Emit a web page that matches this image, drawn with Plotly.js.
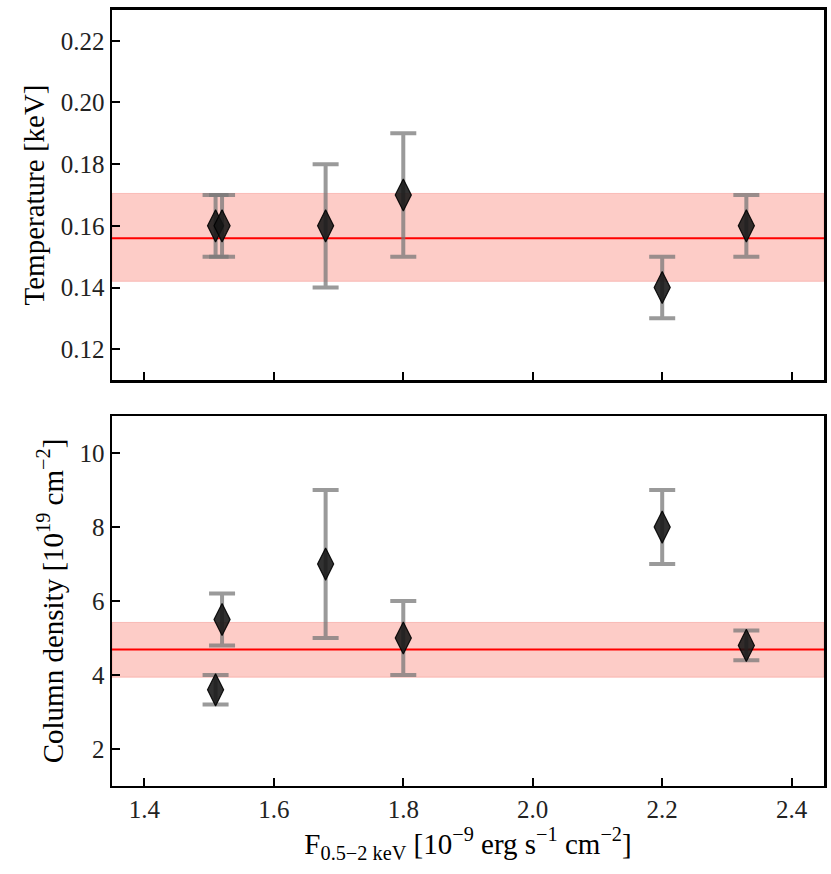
<!DOCTYPE html>
<html>
<head>
<meta charset="utf-8">
<script src="https://cdn.plot.ly/plotly-3.0.1.min.js"></script>
<style>
  html, body { margin: 0; padding: 0; background: #fff; }
  #chart { width: 831px; height: 874px; }
</style>
</head>
<body>
<div id="chart"></div>
<script>
// flux values (shared x)
const flux = [1.51, 1.52, 1.68, 1.80, 2.20, 2.33];

// temperature panel
const temp = [0.16, 0.16, 0.16, 0.17, 0.14, 0.16];
const tempErrHi = [0.01, 0.01, 0.02, 0.02, 0.01, 0.01];
const tempErrLo = [0.01, 0.01, 0.02, 0.02, 0.01, 0.01];
const tempMean = 0.156;
const tempBand = [0.142, 0.1705];

// column density panel
const nh = [3.6, 5.5, 7.0, 5.0, 8.0, 4.8];
const nhErrHi = [0.4, 0.7, 2.0, 1.0, 1.0, 0.4];
const nhErrLo = [0.4, 0.7, 2.0, 1.0, 1.0, 0.4];
const nhMean = 4.69;
const nhBand = [3.94, 5.42];

const xRange = [1.35, 2.45];
const tempRange = [0.11, 0.23];
const nhRange = [1, 11];

const FONT = "Liberation Serif";
const ERR_COLOR = "rgba(120,120,120,0.75)";
const MARKER = {
  symbol: "diamond-tall",
  size: 23,
  color: "rgba(20,20,20,0.88)",
  line: { color: "rgba(0,0,0,0.9)", width: 1.2 },
};

function points(y, hi, lo, axis) {
  return {
    x: flux, y: y, xaxis: "x" + axis, yaxis: "y" + axis,
    type: "scatter", mode: "markers",
    marker: MARKER,
    error_y: { type: "data", array: hi, arrayminus: lo, color: ERR_COLOR, thickness: 4, width: 13 },
    hoverinfo: "x+y", showlegend: false,
  };
}

function meanLine(v, axis) {
  return {
    x: xRange, y: [v, v], xaxis: "x" + axis, yaxis: "y" + axis,
    type: "scatter", mode: "lines",
    line: { color: "#ff0000", width: 2 },
    hoverinfo: "skip", showlegend: false,
  };
}

function band(b, axis) {
  return {
    type: "rect", xref: "x" + axis + " domain", yref: "y" + axis,
    x0: 0, x1: 1, y0: b[0], y1: b[1],
    fillcolor: "rgba(250,128,114,0.4)",
    line: { color: "rgba(240,110,100,0.35)", width: 1 },
    layer: "below",
  };
}

function axisBase(extra) {
  return Object.assign({
    showline: true, mirror: true, linecolor: "#000", linewidth: 2.5,
    ticks: "inside", ticklen: 8, tickwidth: 2, tickcolor: "#000",
    showgrid: false, zeroline: false, automargin: false,
    tickmode: "linear",
    tickfont: { family: FONT, size: 25, color: "#222" },
  }, extra);
}

const titleFont = { family: FONT, size: 29, color: "#000" };

const traces = [
  meanLine(tempMean, ""),
  points(temp, tempErrHi, tempErrLo, ""),
  meanLine(nhMean, "2"),
  points(nh, nhErrHi, nhErrLo, "2"),
];

const layout = {
  width: 831, height: 874,
  margin: { l: 0, r: 0, t: 0, b: 0 },
  paper_bgcolor: "#fff", plot_bgcolor: "rgba(0,0,0,0)",
  font: { family: FONT, size: 25, color: "#222" },
  xaxis: axisBase({
    domain: [0.1348, 0.9916], range: xRange, anchor: "y",
    tick0: 1.4, dtick: 0.2, showticklabels: false,
  }),
  yaxis: axisBase({
    domain: [0.5652, 0.9886], range: tempRange, anchor: "x",
    tick0: 0.12, dtick: 0.02, tickformat: ".2f",
    title: { text: "Temperature [keV]", font: titleFont, standoff: 8 },
  }),
  xaxis2: axisBase({
    domain: [0.1348, 0.9916], range: xRange, anchor: "y2",
    tick0: 1.4, dtick: 0.2, tickformat: ".1f",
    title: { text: "F<sub>0.5−2 keV</sub> [10<sup>−9</sup> erg s<sup>−1</sup> cm<sup>−2</sup>]", font: titleFont, standoff: 6 },
  }),
  yaxis2: axisBase({
    domain: [0.1007, 0.5240], range: nhRange, anchor: "x2",
    tick0: 2, dtick: 2,
    title: { text: "Column density [10<sup>19</sup> cm<sup>−2</sup>]", font: titleFont, standoff: 8 },
  }),
  shapes: [band(tempBand, ""), band(nhBand, "2")],
};

Plotly.newPlot("chart", traces, layout, { displayModeBar: false, staticPlot: true });
</script>
</body>
</html>
